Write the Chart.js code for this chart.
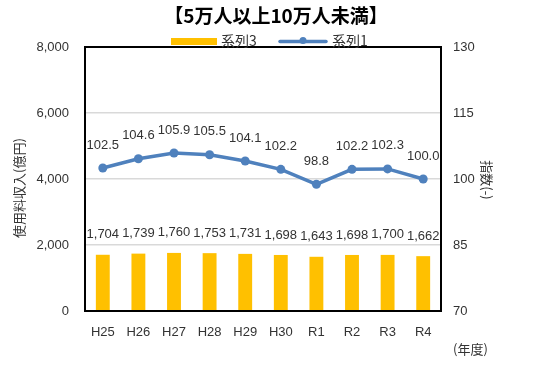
<!DOCTYPE html>
<html>
<head>
<meta charset="utf-8">
<script src="https://cdn.jsdelivr.net/npm/chart.js@4/dist/chart.umd.min.js"></script>
<style>
  html, body { margin: 0; padding: 0; background: #fff; }
  #wrap { width: 538px; height: 370px; }
</style>
</head>
<body>
<div id="wrap"><canvas id="myChart" width="538" height="370"></canvas></div>
<script>
// データ
const years = ['H25', 'H26', 'H27', 'H28', 'H29', 'H30', 'R1', 'R2', 'R3', 'R4'];
const revenue = [1704, 1739, 1760, 1753, 1731, 1698, 1643, 1698, 1700, 1662]; // 系列3（億円）
const index = [102.5, 104.6, 105.9, 105.5, 104.1, 102.2, 98.8, 102.2, 102.3, 100.0]; // 系列1（指数）

const JP = '"Noto Sans CJK JP", sans-serif';
const NUM = '"Liberation Sans", sans-serif';
const TXT = '#333';
const BAR = '#FFC000';
const LINE = '#4F81BD';

// タイトル・凡例・軸タイトル・データラベル・枠線
const decoPlugin = {
  id: 'deco',
  afterDatasetsDraw(chart) {
    const ctx = chart.ctx;
    const a = chart.chartArea;
    ctx.save();

    // データラベル
    ctx.font = '13px ' + NUM;
    ctx.fillStyle = TXT;
    ctx.textAlign = 'center';
    ctx.textBaseline = 'middle';
    chart.getDatasetMeta(0).data.forEach((el, i) => {
      ctx.fillText(revenue[i].toLocaleString('en-US'), el.x, el.y - 20);
    });
    chart.getDatasetMeta(1).data.forEach((el, i) => {
      ctx.fillText(index[i].toFixed(1), el.x, el.y - 23);
    });

    // 枠線
    ctx.strokeStyle = '#000';
    ctx.lineWidth = 2;
    ctx.strokeRect(a.left, a.top, a.right - a.left, a.bottom - a.top);

    // タイトル
    ctx.fillStyle = '#000';
    ctx.font = 'bold 19px ' + JP;
    ctx.fillText('【5万人以上10万人未満】', 276, 16);

    // 凡例
    ctx.fillStyle = BAR;
    ctx.fillRect(171, 38, 46, 7);
    ctx.strokeStyle = LINE;
    ctx.lineWidth = 3.5;
    ctx.lineCap = 'round';
    ctx.beginPath(); ctx.moveTo(280, 41.5); ctx.lineTo(326, 41.5); ctx.stroke();
    ctx.fillStyle = LINE;
    ctx.beginPath(); ctx.arc(303, 40.5, 3.5, 0, Math.PI * 2); ctx.fill();
    ctx.fillStyle = TXT;
    ctx.font = '14px ' + JP;
    ctx.textAlign = 'left';
    ctx.fillText('系列3', 221, 41);
    ctx.fillText('系列1', 332, 41);

    // 軸タイトル
    ctx.font = '13px ' + JP;
    ctx.fillText('(年度)', 453, 349);
    ctx.textAlign = 'center';
    ctx.save();
    ctx.translate(19, 188);
    ctx.rotate(-Math.PI / 2);
    ctx.fillText('使用料収入(億円)', 0, 0);
    ctx.restore();
    ctx.save();
    ctx.translate(487, 180);
    ctx.rotate(Math.PI / 2);
    ctx.fillText('指数(-)', 0, 0);
    ctx.restore();

    ctx.restore();
  }
};

new Chart('myChart', {
  data: {
    labels: years,
    datasets: [
      {
        type: 'bar',
        label: '系列3',
        data: revenue,
        backgroundColor: BAR,
        barPercentage: 0.78,
        categoryPercentage: 0.5,
        yAxisID: 'y',
        order: 2
      },
      {
        type: 'line',
        label: '系列1',
        data: index,
        borderColor: LINE,
        backgroundColor: LINE,
        borderWidth: 3.5,
        pointRadius: 4.5,
        pointBackgroundColor: LINE,
        pointBorderWidth: 0,
        tension: 0,
        yAxisID: 'y2',
        order: 1
      }
    ]
  },
  options: {
    responsive: false,
    animation: false,
    layout: { padding: { left: 0, right: 0, top: 47, bottom: 0 } },
    plugins: {
      title: { display: false },
      legend: { display: false },
      tooltip: { enabled: false }
    },
    scales: {
      x: {
        grid: { display: false },
        border: { display: false },
        ticks: { color: TXT, font: { family: NUM, size: 13 }, padding: 6 },
        afterFit(s) { s.height = 59; }
      },
      y: {
        position: 'left',
        min: 0,
        max: 8000,
        ticks: {
          stepSize: 2000,
          color: TXT,
          font: { family: NUM, size: 13 },
          padding: 16,
          callback: v => v.toLocaleString('en-US')
        },
        grid: { color: '#D9D9D9', lineWidth: 1.5, drawTicks: false },
        border: { display: false },
        afterFit(s) { s.width = 85; }
      },
      y2: {
        position: 'right',
        min: 70,
        max: 130,
        ticks: {
          stepSize: 15,
          color: TXT,
          font: { family: NUM, size: 13 },
          padding: 4
        },
        grid: { display: false },
        border: { display: false },
        afterFit(s) { s.width = 97; }
      }
    }
  },
  plugins: [decoPlugin]
});
</script>
</body>
</html>
